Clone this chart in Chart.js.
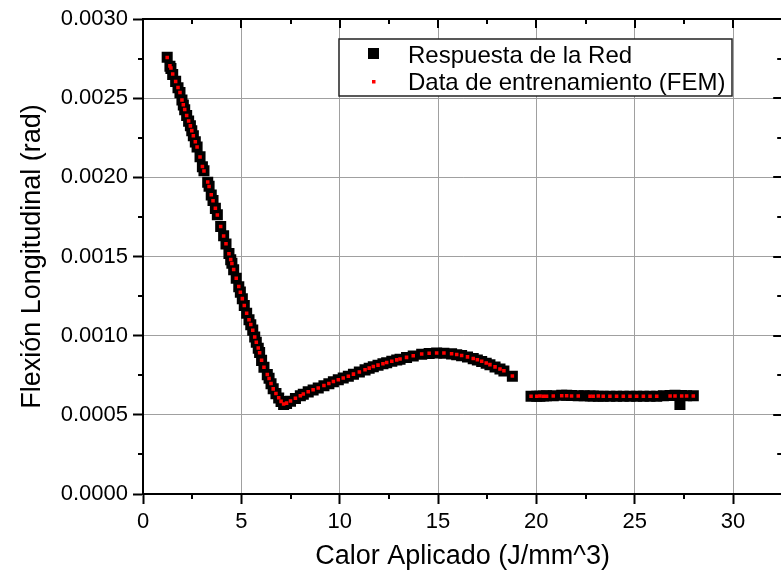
<!DOCTYPE html>
<html>
<head>
<meta charset="utf-8">
<script src="https://cdn.jsdelivr.net/npm/chart.js@4/dist/chart.umd.min.js"></script>
<style>
  html, body { margin: 0; padding: 0; background: #fff; overflow: hidden; }
  #wrap { width: 790px; height: 574px; }
</style>
</head>
<body>
<div id="wrap"><canvas id="c" width="790" height="574"></canvas></div>
<script>
// ---- data ----
const xTicks = [0, 5, 10, 15, 20, 25, 30];
const xTickLabels = ['0', '5', '10', '15', '20', '25', '30'];
const yTicks = [0, 0.0005, 0.001, 0.0015, 0.002, 0.0025, 0.003];
const yTickLabels = ['0.0000', '0.0005', '0.0010', '0.0015', '0.0020', '0.0025', '0.0030'];
const xMinor = [2.5, 7.5, 12.5, 17.5, 22.5, 27.5, 32.5];
const yMinor = [0.00025, 0.00075, 0.00125, 0.00175, 0.00225, 0.00275];

const seriesNames = ['Respuesta de la Red', 'Data de entrenamiento (FEM)'];
const xTitle = 'Calor Aplicado (J/mm^3)';
const yTitle = 'Flexión Longitudinal (rad)';

// FEM training data (red)
const femX = [1.23,1.37,1.42,1.51,1.66,1.78,1.88,1.98,2.05,2.12,2.22,2.32,2.41,2.48,2.56,2.66,2.75,2.90,3.02,3.10,
  3.29,3.36,3.47,3.56,3.68,3.78,3.95,4.10,4.22,4.37,4.46,4.52,4.61,4.74,4.87,4.95,5.05,5.15,5.27,5.39,
  5.48,5.58,5.68,5.76,5.86,5.93,6.03,6.15,6.32,6.41,6.51,6.62,6.76,6.90,7.02,7.15,
  7.30,7.50,7.75,8.00,8.15,8.40,8.65,8.91,9.20,9.45,9.68,9.93,10.18,10.44,10.70,11.00,11.29,11.50,11.71,11.95,
  12.20,12.39,12.65,12.90,13.07,13.40,13.74,14.17,14.55,14.93,15.30,15.69,15.95,16.20,16.50,16.79,17.00,17.22,
  17.45,17.64,17.90,18.15,18.35,18.78,
  19.73,20.02,20.18,20.35,20.52,20.86,21.29,21.54,21.79,22.13,22.73,22.89,23.15,23.40,23.74,24.08,24.42,24.76,
  25.10,25.44,25.78,26.12,26.80,27.05,27.39,27.64,27.98];
const femY = [0.002757,0.002704,0.002690,0.002652,0.002605,0.002567,0.002536,0.002488,0.002458,0.002428,
  0.002390,0.002356,0.002325,0.002295,0.002262,0.002225,0.002192,0.002129,0.002068,0.002040,
  0.001970,0.001942,0.001890,0.001852,0.001805,0.001762,0.001690,0.001630,0.001580,0.001518,
  0.001481,0.001456,0.001418,0.001362,0.001310,0.001274,0.001234,0.001190,0.001142,0.001100,
  0.001070,0.001034,0.000992,0.000958,0.000922,0.000892,0.000845,0.000800,0.000755,0.000730,
  0.000698,0.000664,0.000635,0.000608,0.000585,0.000568,
  0.000574,0.000588,0.000605,0.000621,0.000632,0.000646,0.000658,0.000670,0.000685,0.000698,
  0.000710,0.000722,0.000733,0.000744,0.000757,0.000771,0.000785,0.000795,0.000805,0.000814,
  0.000823,0.000830,0.000839,0.000847,0.000852,0.000863,0.000873,0.000884,0.000889,0.000891,
  0.000890,0.000886,0.000881,0.000875,0.000866,0.000856,0.000848,0.000838,0.000827,0.000817,
  0.000803,0.000790,0.000778,0.000745,
  0.000618,0.000618,0.000619,0.000618,0.000618,0.000619,0.000620,0.000620,0.000619,0.000619,
  0.000618,0.000618,0.000619,0.000618,0.000618,0.000618,0.000618,0.000618,0.000618,0.000618,
  0.000618,0.000618,0.000619,0.000619,0.000619,0.000619,0.000619];

// Network response (black)
const netX = [1.23,1.37,1.42,1.51,1.66,1.78,1.88,1.98,2.05,2.12,2.22,2.32,2.41,2.48,2.56,2.66,2.75,2.90,3.02,3.10,
  3.29,3.36,3.47,3.56,3.68,3.78,3.95,4.10,4.22,4.37,4.46,4.52,4.61,4.74,4.87,4.95,5.05,5.15,5.27,5.39,
  5.48,5.58,5.68,5.76,5.86,5.93,6.03,6.15,6.32,6.41,6.51,6.62,6.76,6.90,7.02,7.15,
  7.30,7.50,7.75,8.00,8.15,8.40,8.65,8.91,9.20,9.45,9.68,9.93,10.18,10.44,10.70,11.00,11.29,11.50,11.71,11.95,
  12.20,12.39,12.65,12.90,13.07,13.40,13.74,14.17,14.55,14.93,15.30,15.69,15.95,16.20,16.50,16.79,17.00,17.22,
  17.45,17.64,17.90,18.15,18.35,18.78,
  19.73,20.02,20.18,20.35,20.52,20.86,21.29,21.54,21.79,22.13,22.43,22.73,22.89,23.15,23.40,23.74,24.08,24.42,24.76,
  25.10,25.44,25.78,26.12,26.46,26.80,27.05,27.30,27.39,27.64,27.98];
const netY = [0.002758,0.002702,0.002688,0.002650,0.002606,0.002566,0.002535,0.002489,0.002457,0.002427,
  0.002391,0.002355,0.002326,0.002294,0.002263,0.002224,0.002191,0.002130,0.002067,0.002041,
  0.001969,0.001943,0.001889,0.001853,0.001804,0.001763,0.001689,0.001631,0.001579,0.001519,
  0.001480,0.001457,0.001417,0.001363,0.001309,0.001275,0.001233,0.001191,0.001141,0.001101,
  0.001069,0.001035,0.000991,0.000959,0.000921,0.000893,0.000844,0.000801,0.000754,0.000731,
  0.000697,0.000665,0.000634,0.000607,0.000584,0.000566,
  0.000572,0.000586,0.000603,0.000620,0.000630,0.000645,0.000657,0.000669,0.000684,0.000697,
  0.000709,0.000721,0.000732,0.000743,0.000756,0.000770,0.000784,0.000794,0.000804,0.000813,
  0.000822,0.000829,0.000838,0.000846,0.000851,0.000862,0.000872,0.000883,0.000888,0.000890,
  0.000889,0.000885,0.000880,0.000874,0.000865,0.000855,0.000847,0.000837,0.000826,0.000816,
  0.000802,0.000789,0.000777,0.000744,
  0.000618,0.000617,0.000618,0.000619,0.000620,0.000621,0.000623,0.000623,0.000622,0.000621,0.000620,
  0.000619,0.000619,0.000618,0.000618,0.000617,0.000617,0.000617,0.000617,0.000617,
  0.000617,0.000618,0.000618,0.000621,0.000622,0.000623,0.000565,0.000622,0.000621,0.000620];

// ---- chart ----
Chart.defaults.font.family = '"Liberation Sans", Arial, sans-serif';
Chart.defaults.color = '#000';

const framePlugin = {
  id: 'frame',
  afterDraw(chart) {
    const {ctx, chartArea: a, scales: {x, y}} = chart;
    ctx.save();
    ctx.strokeStyle = '#000';
    ctx.lineWidth = 2;
    ctx.beginPath();
    ctx.moveTo(a.left - 1, a.top); ctx.lineTo(a.right + 1, a.top);
    ctx.moveTo(a.right, a.top); ctx.lineTo(a.right, a.bottom);
    ctx.stroke();
    ctx.beginPath();
    xTicks.forEach(v => { const p = Math.round(x.getPixelForValue(v)); ctx.moveTo(p, a.top); ctx.lineTo(p, a.top + 9); });
    xMinor.forEach(v => {
      const p = Math.round(x.getPixelForValue(v));
      ctx.moveTo(p, a.top); ctx.lineTo(p, a.top + 5);
      ctx.moveTo(p, a.bottom); ctx.lineTo(p, a.bottom + 5);
    });
    yTicks.forEach(v => { const p = Math.round(y.getPixelForValue(v)); ctx.moveTo(a.right, p); ctx.lineTo(a.right - 9, p); });
    yMinor.forEach(v => {
      const p = Math.round(y.getPixelForValue(v));
      ctx.moveTo(a.right, p); ctx.lineTo(a.right - 5, p);
      ctx.moveTo(a.left, p); ctx.lineTo(a.left - 5, p);
    });
    ctx.stroke();

    // legend box
    const L = a.left + 196, T = a.top + 20, W = 393, H = 57;
    ctx.fillStyle = '#fff';
    ctx.fillRect(L, T, W, H);
    ctx.lineWidth = 1.5;
    ctx.strokeStyle = '#222';
    ctx.strokeRect(L, T, W, H);
    const ds = chart.data.datasets;
    ctx.fillStyle = ds[0].backgroundColor;
    ctx.fillRect(L + 29, T + 9, 11, 11);
    ctx.fillStyle = ds[1].backgroundColor;
    ctx.fillRect(L + 33, T + 41, 3.5, 3.5);
    ctx.fillStyle = '#000';
    ctx.font = '24px "Liberation Sans", Arial, sans-serif';
    ctx.textBaseline = 'alphabetic';
    ctx.textAlign = 'left';
    ctx.fillText(ds[0].label, L + 69, T + 23.5);
    ctx.fillText(ds[1].label, L + 69, T + 51);
    ctx.restore();
  }
};

new Chart(document.getElementById('c'), {
  type: 'scatter',
  data: {
    datasets: [
      {
        label: seriesNames[0],
        data: netX.map((v, i) => ({x: v, y: netY[i]})),
        pointStyle: 'rect',
        pointRadius: 7.8,
        pointBorderWidth: 0,
        backgroundColor: '#000000',
        borderColor: '#000000',
        order: 1
      },
      {
        label: seriesNames[1],
        data: femX.map((v, i) => ({x: v, y: femY[i]})),
        pointStyle: 'rect',
        pointRadius: 2.5,
        pointBorderWidth: 0,
        backgroundColor: '#ff0000',
        borderColor: '#ff0000',
        order: 0
      }
    ]
  },
  options: {
    responsive: false,
    animation: false,
    devicePixelRatio: 1,
    layout: { padding: { top: 19, right: 2, bottom: 0, left: 0 } },
    plugins: { legend: { display: false }, tooltip: { enabled: false } },
    scales: {
      x: {
        type: 'linear',
        min: 0, max: 32.5,
        afterBuildTicks: s => { s.ticks = xTicks.map(v => ({value: v})); },
        afterFit: s => { s.height = 80; },
        ticks: {
          callback: (v, i) => xTickLabels[i],
          font: { size: 22 },
          padding: 5,
          maxRotation: 0,
          color: '#000'
        },
        grid: { color: '#a0a0a0', lineWidth: 1, tickColor: '#000', tickLength: 10, tickWidth: 2 },
        border: { color: '#000', width: 2 },
        title: { display: true, text: xTitle, font: { size: 27 }, padding: { top: 0, bottom: 1 }, color: '#000' }
      },
      y: {
        type: 'linear',
        min: 0, max: 0.003,
        afterBuildTicks: s => { s.ticks = yTicks.map(v => ({value: v})); },
        afterFit: s => { s.width = 143; },
        ticks: {
          callback: (v, i) => yTickLabels[i],
          font: { size: 22 },
          padding: 5,
          color: '#000'
        },
        grid: { color: '#a0a0a0', lineWidth: 1, tickColor: '#000', tickLength: 10, tickWidth: 2 },
        border: { color: '#000', width: 2 },
        title: { display: true, text: yTitle, font: { size: 27 }, padding: { top: 16, bottom: 0 }, color: '#000' }
      }
    }
  },
  plugins: [framePlugin]
});
</script>
</body>
</html>
